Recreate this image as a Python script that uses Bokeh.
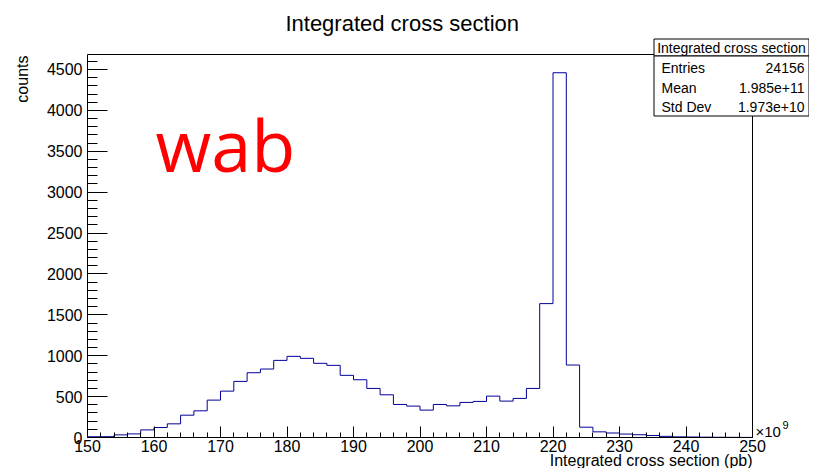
from bokeh.plotting import figure
from bokeh.models import Label, BoxAnnotation, FixedTicker, Range1d, Title
from bokeh.embed import file_html
from bokeh.resources import INLINE

# ---- data ----
bin_edges = list(range(150, 252, 2))  # 51 edges, 50 bins of width 2 (x 1e9 pb)
counts = [9, 10, 32, 44, 93, 122, 167, 273, 326, 457,
          567, 686, 792, 837, 943, 992, 968, 907, 882, 760,
          706, 600, 522, 404, 384, 335, 404, 387, 429, 441,
          506, 445, 478, 600, 1637, 4460, 886, 126, 69, 55,
          42, 34, 24, 14, 8, 6, 4, 3, 2, 1]
x_ticks = list(range(150, 251, 10))
x_minor = list(range(150, 251, 2))
y_ticks = list(range(0, 4501, 500))
y_minor = list(range(0, 4601, 100))
title_text = "Integrated cross section"
x_label = "Integrated cross section (pb)"
y_label = "counts"
stat_names = ["Entries", "Mean", "Std Dev"]
stat_values = ["24156", "1.985e+11", "1.973e+10"]

FONT = "Liberation Sans"
W, H = 809, 468
FL, FB = 87.0, 437.0          # frame left / bottom (pixels)
FR_ROOT, FT_ROOT = 752.0, 54.0  # ROOT frame right / top (pixels)
x_lo, x_hi = bin_edges[0], bin_edges[-1]
y_top = 1.05 * max(counts)
px_per_x = (FR_ROOT - FL) / (x_hi - x_lo)
px_per_y = (FB - FT_ROOT) / y_top


def dx(px):
    return x_lo + (px - FL) / px_per_x


def dy(py):
    return (FB - py) / px_per_y


p = figure(width=W, height=H, output_backend="svg", toolbar_location=None,
           x_range=Range1d(x_lo, dx(W)), y_range=Range1d(0, dy(0)),
           min_border_left=int(FL), min_border_right=0, min_border_top=0,
           min_border_bottom=int(H - FB))
p.title.visible = False
p.background_fill_color = "white"
p.border_fill_color = "white"
p.outline_line_color = None
p.xgrid.visible = False
p.ygrid.visible = False

# ROOT frame box
p.add_layout(BoxAnnotation(left=x_lo, right=x_hi, bottom=0, top=y_top, fill_alpha=0,
                           line_color="black", line_width=1, line_alpha=1.0))

# histogram outline
p.step(x=bin_edges, y=counts + [counts[-1]], mode="after", line_color="#000099", line_width=1)

# axes
p.xaxis.ticker = FixedTicker(ticks=x_ticks, minor_ticks=x_minor)
p.yaxis.ticker = FixedTicker(ticks=y_ticks, minor_ticks=y_minor)
p.xaxis.bounds = (x_lo, x_hi)
p.yaxis.bounds = (0, y_top)
for ax in (p.xaxis[0], p.yaxis[0]):
    ax.axis_line_color = "black"
    ax.major_tick_line_color = "black"
    ax.minor_tick_line_color = "black"
    ax.major_tick_out = 0
    ax.minor_tick_out = 0
    ax.major_label_text_font = FONT
    ax.major_label_text_font_size = "16px"
    ax.major_label_text_color = "black"
p.xaxis.major_tick_in = 11
p.xaxis.minor_tick_in = 5
p.yaxis.major_tick_in = 20
p.yaxis.minor_tick_in = 10
p.xaxis.major_label_standoff = 2
p.yaxis.major_label_standoff = 5

# axis titles (ROOT style: at the end of the axes)
p.add_layout(Title(text=y_label, align="right", offset=55, standoff=22, vertical_align="top",
                   text_font=FONT, text_font_size="16px", text_font_style="normal",
                   text_color="black"), "left")
p.add_layout(Title(text=x_label, align="right", offset=int(W - FR_ROOT), standoff=-9,
                   vertical_align="bottom", text_font=FONT, text_font_size="16px",
                   text_font_style="normal", text_color="black"), "below")

SHIFT = 0.375  # empirical baseline correction (fraction of font size)


def lab(text, px, py, size, align="left", color="black", font=FONT, level="annotation"):
    py_adj = py - SHIFT * size
    p.add_layout(Label(x=dx(px), y=dy(py_adj), text=text, text_font=font,
                       text_font_size=f"{size}px", text_align=align,
                       text_baseline="alphabetic", text_color=color, level=level))


# title, exponent (positions are desired baselines in pixels)
lab(title_text, 401.7, 30.8, 22, align="center")
lab("\u00d710", 755, 437, 15)
lab("9", 782, 429, 11)

# big red annotation
lab("wab", 155, 170, 72, color="red", font="Open Sans")

# stats box
box_l, box_r, box_t, box_sep, box_b = 653.5, W - 0.5, 38.5, 55.5, 115.5
for top, bottom in ((box_t, box_sep), (box_sep, box_b)):
    p.add_layout(BoxAnnotation(left=dx(box_l), right=dx(box_r), top=dy(top), bottom=dy(bottom),
                               fill_color="white", fill_alpha=1.0, line_color="black", line_width=1,
                               line_alpha=1.0, level="overlay"))
lab(title_text, (box_l + box_r) / 2, 52.7, 14, align="center", level="overlay")
row_base = [72.3, 92.5, 111.7]
for name, val, yb in zip(stat_names, stat_values, row_base):
    lab(name, 661, yb, 14, level="overlay")
    lab(val, box_r - 4.5, yb, 14, align="right", level="overlay")

open("out.html", "w").write(file_html(p, INLINE))
